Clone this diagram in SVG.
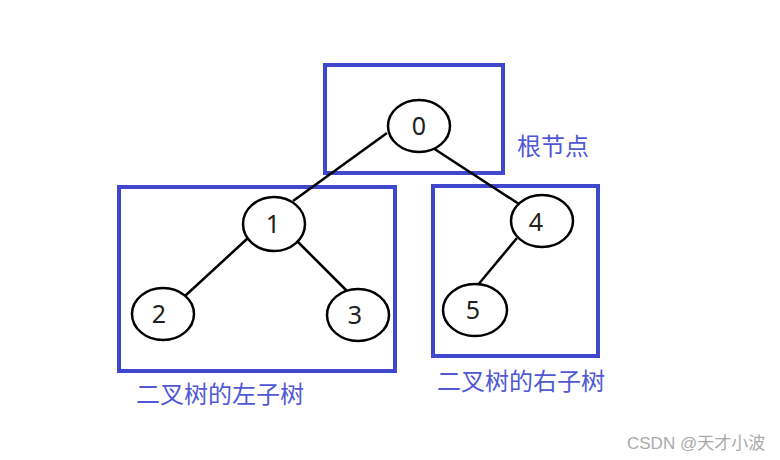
<svg xmlns="http://www.w3.org/2000/svg" width="780" height="460" viewBox="0 0 780 460">
<style>
.box{fill:none;stroke:#3f48cc;stroke-width:4}
.nd{fill:#fff;stroke:#000;stroke-width:2.5}
.num{font-family:"Noto Sans","Liberation Sans",sans-serif;font-size:25px;fill:#222;text-anchor:middle}
.lbl{font-family:"Noto Sans CJK SC","Noto Sans",sans-serif;font-size:24px;fill:#5058d4}
.edge{stroke:#000;stroke-width:2.5;fill:none}
</style>
<rect width="780" height="460" fill="#fff"/>
<g id="boxes">
<rect class="box" x="325" y="65" width="178" height="108"/>
<rect class="box" x="119" y="187" width="276" height="184"/>
<rect class="box" x="433" y="186" width="165" height="170"/>
</g>
<g id="connectors">
<line class="edge" x1="387" y1="133" x2="293" y2="201"/>
<line class="edge" x1="433" y1="148" x2="519" y2="204"/>
<line class="edge" x1="248" y1="238" x2="185" y2="296"/>
<line class="edge" x1="298" y1="242" x2="348" y2="292"/>
<line class="edge" x1="517" y1="238" x2="477" y2="286"/>
</g>
<g id="node0"><ellipse class="nd" cx="419" cy="126" rx="31" ry="26"/><text class="num" x="419" y="135">0</text></g>
<g id="node1"><ellipse class="nd" cx="274" cy="224" rx="31" ry="27"/><text class="num" x="273" y="233">1</text></g>
<g id="node2"><ellipse class="nd" cx="163" cy="314" rx="31" ry="26"/><text class="num" x="159" y="323">2</text></g>
<g id="node3"><ellipse class="nd" cx="358" cy="315" rx="31" ry="26"/><text class="num" x="355" y="324">3</text></g>
<g id="node4"><ellipse class="nd" cx="542" cy="221" rx="31" ry="26"/><text class="num" x="536" y="231">4</text></g>
<g id="node5"><ellipse class="nd" cx="475" cy="310" rx="32" ry="26"/><text class="num" x="473" y="319">5</text></g>
<g id="labels">
<text class="lbl" x="517" y="155">根节点</text>
<text class="lbl" x="136" y="403">二叉树的左子树</text>
<text class="lbl" x="437" y="390">二叉树的右子树</text>
<text x="627" y="449" font-family="'Liberation Sans','Noto Sans CJK SC',sans-serif" font-size="17" fill="#aaa">CSDN @天才小波</text>
</g>
</svg>
